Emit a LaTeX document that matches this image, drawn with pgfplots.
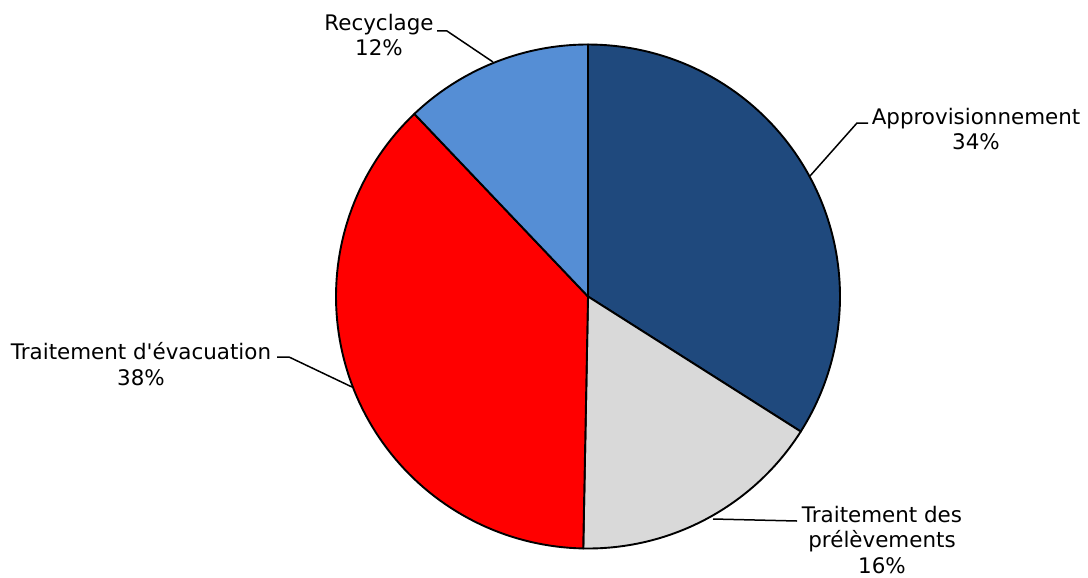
\documentclass[border=0pt]{standalone}
\usepackage{pgfplots}
\usepackage{pgfplotstable}
\usepackage{fontspec}
\setmainfont{DejaVu Sans}
\pgfplotsset{compat=1.18}
\definecolor{cA}{HTML}{1F497D}
\definecolor{cB}{HTML}{D9D9D9}
\definecolor{cC}{HTML}{FF0000}
\definecolor{cD}{HTML}{558ED5}
\pgfplotstableread{
name value
Approvisionnement 34.0
Prelevements 16.3
Evacuation 37.6
Recyclage 12.1
}\piedata
\begin{document}
\begin{tikzpicture}
\pgfplotstablegetelem{0}{value}\of\piedata \let\va\pgfplotsretval
\pgfplotstablegetelem{1}{value}\of\piedata \let\vb\pgfplotsretval
\pgfplotstablegetelem{2}{value}\of\piedata \let\vc\pgfplotsretval
\pgfplotstablegetelem{3}{value}\of\piedata \let\vd\pgfplotsretval
\pgfmathsetmacro\aA{90}
\pgfmathsetmacro\aB{\aA-3.6*\va}
\pgfmathsetmacro\aC{\aB-3.6*\vb}
\pgfmathsetmacro\aD{\aC-3.6*\vc}
\pgfmathsetmacro\aE{\aD-3.6*\vd}
\begin{axis}[width=1088bp,height=578bp,scale only axis,
  xmin=0,xmax=1088,ymin=0,ymax=578,y dir=reverse,
  axis lines=none,clip=false,
  every axis plot/.append style={samples=90,variable=\t}]
\addplot[fill=cA,draw=black,line width=1.9bp,line join=round,domain=\aB:\aA] ({588+252*cos(t)},{296.5-252*sin(t)}) -- (axis cs:588,296.5) -- cycle;
\addplot[fill=cB,draw=black,line width=1.9bp,line join=round,domain=\aC:\aB] ({588+252*cos(t)},{296.5-252*sin(t)}) -- (axis cs:588,296.5) -- cycle;
\addplot[fill=cC,draw=black,line width=1.9bp,line join=round,domain=\aD:\aC] ({588+252*cos(t)},{296.5-252*sin(t)}) -- (axis cs:588,296.5) -- cycle;
\addplot[fill=cD,draw=black,line width=1.9bp,line join=round,domain=\aE:\aD] ({588+252*cos(t)},{296.5-252*sin(t)}) -- (axis cs:588,296.5) -- cycle;
% leader lines
\addplot[black,line width=1.5bp,mark=none] coordinates {(810,176) (857,123) (868,123)};
\addplot[black,line width=1.5bp,mark=none] coordinates {(493,62) (447,31) (437,31)};
\addplot[black,line width=1.5bp,mark=none] coordinates {(352,387) (289,357) (277,357)};
\addplot[black,line width=1.5bp,mark=none] coordinates {(713,519) (797,521)};
% labels
\begin{scope}[every node/.style={align=center,inner sep=0pt,font=\fontsize{21.5}{26}\selectfont}]
\node at (axis cs:976,129) {Approvisionnement\\34\%};
\node at (axis cs:379,35) {Recyclage\\12\%};
\node at (axis cs:141,364) {Traitement d\textquotesingle évacuation\\38\%};
\node at (axis cs:882,540) {Traitement des\\prélèvements\\16\%};
\end{scope}
\end{axis}
\pgfresetboundingbox
\path (current axis.south west) rectangle (current axis.north east);
\end{tikzpicture}
\end{document}
